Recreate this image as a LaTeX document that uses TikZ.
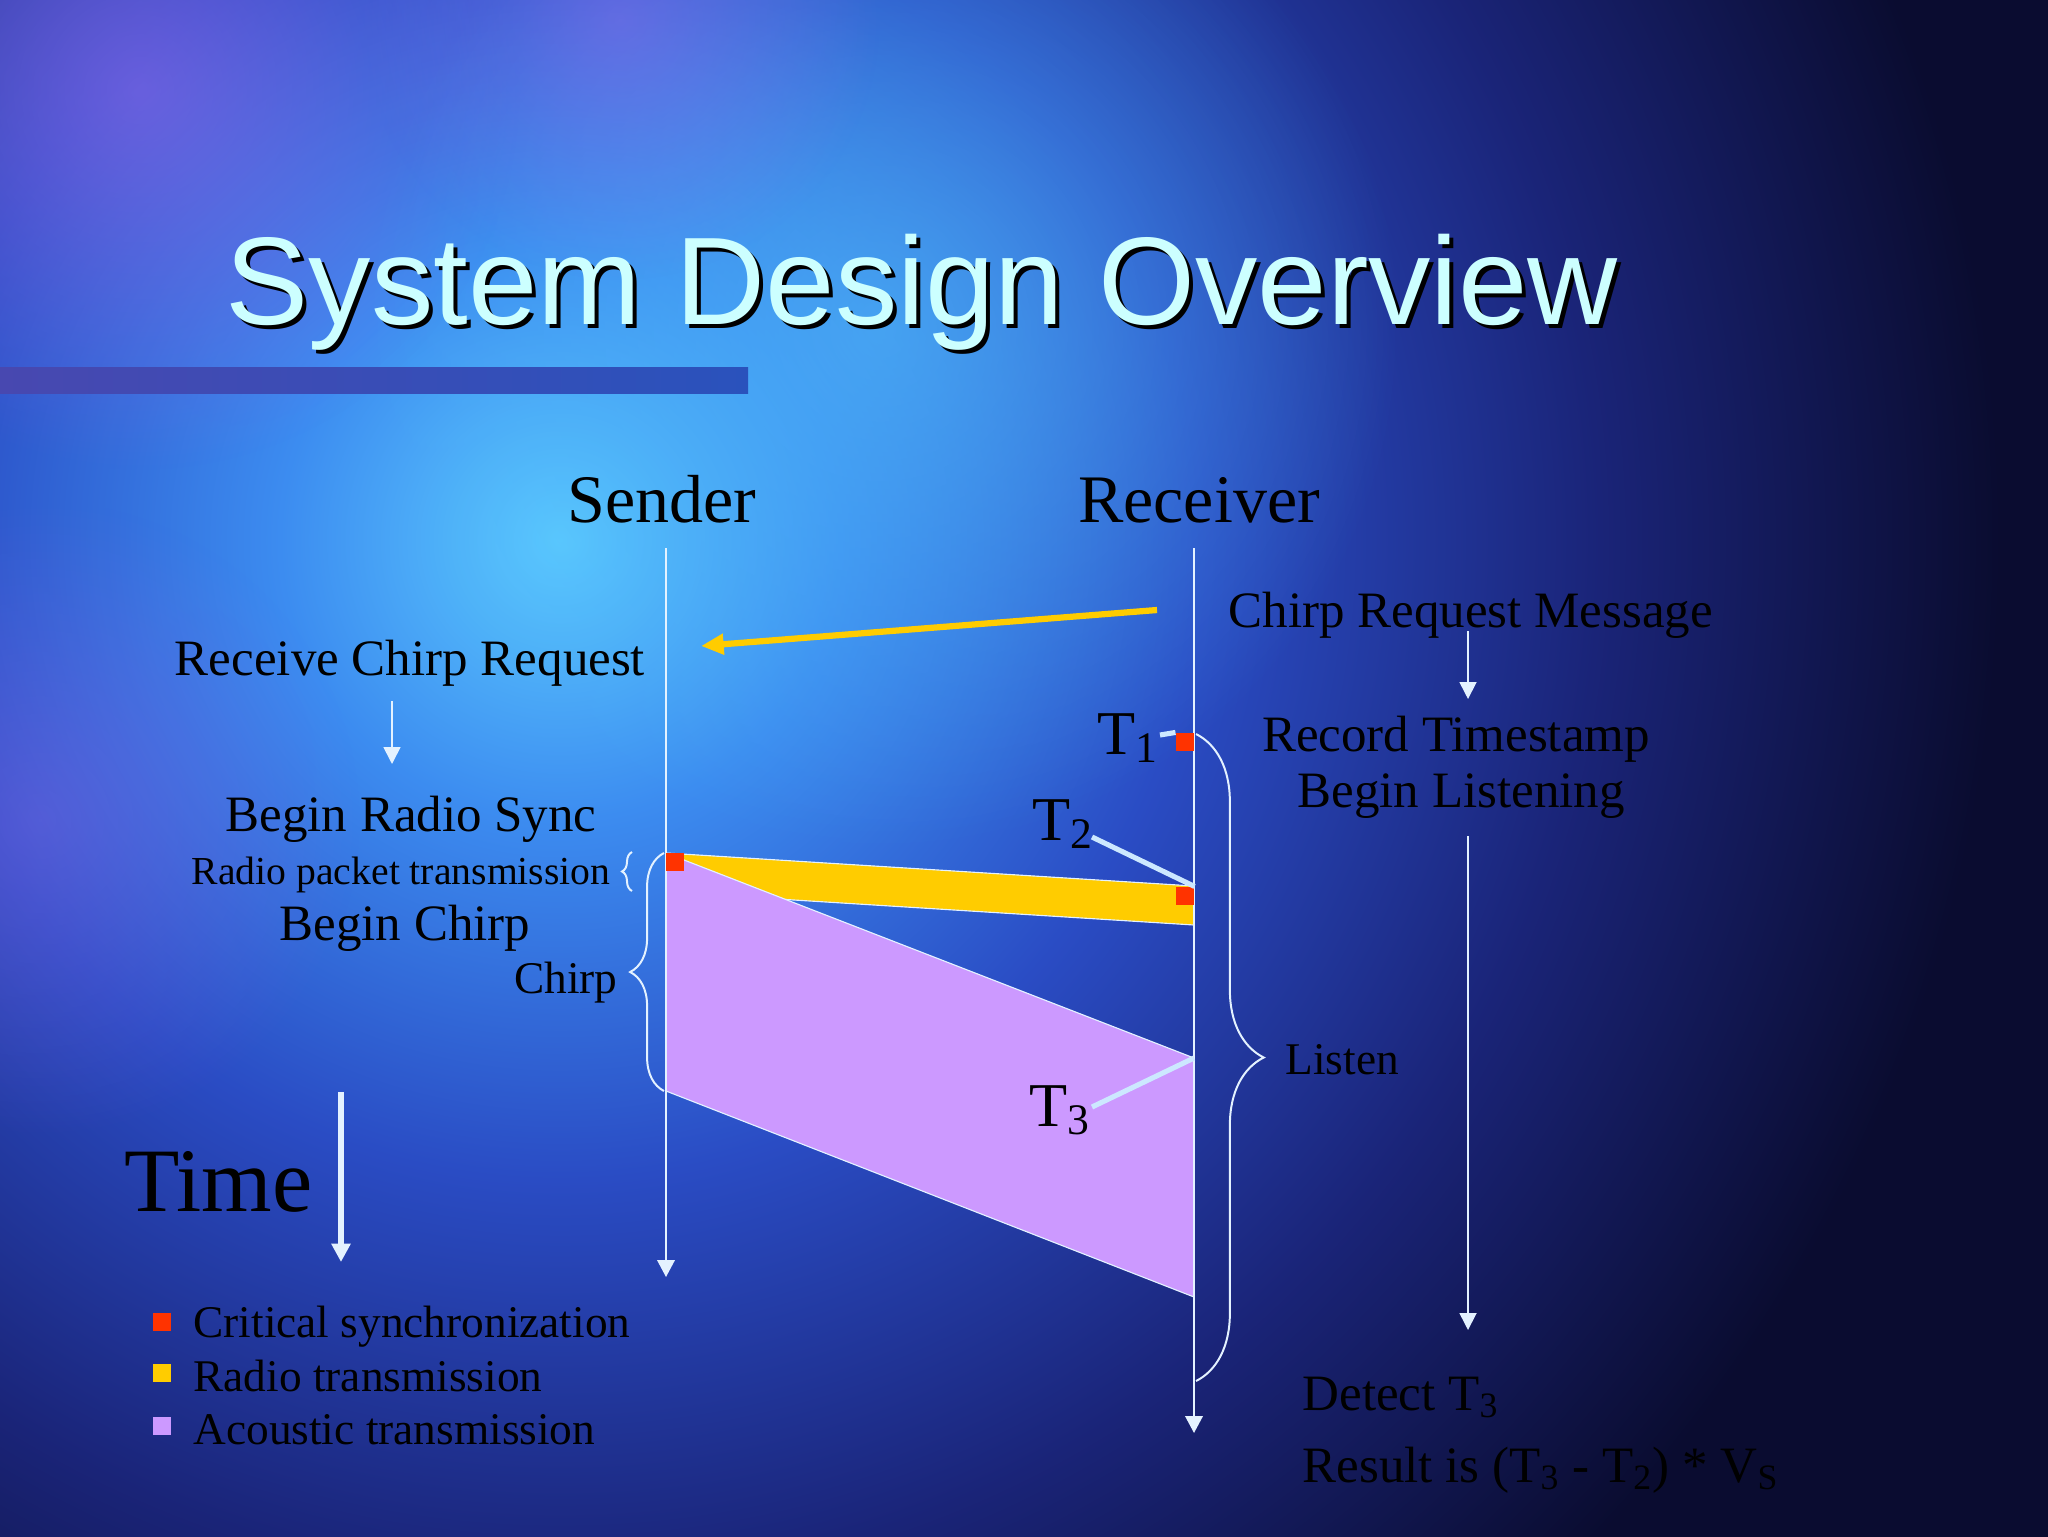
\documentclass[tikz,border=0pt]{standalone}
\usepackage{fontspec}
\setmainfont{Liberation Serif}
\newfontfamily\headfont{Liberation Sans}
\usetikzlibrary{arrows.meta,positioning,calc,decorations.pathreplacing,fadings}

\definecolor{bgA}{HTML}{5CCBFF}
\definecolor{bgB}{HTML}{3C8CF0}
\definecolor{bgC}{HTML}{2A4CC4}
\definecolor{bgD}{HTML}{1A2478}
\definecolor{bgE}{HTML}{0A0C30}
\definecolor{haze}{HTML}{9A6CF0}
\definecolor{glow}{HTML}{4CB4F8}
\definecolor{critred}{HTML}{FF3300}
\definecolor{radioyel}{HTML}{FFCC00}
\definecolor{acoustic}{HTML}{CC99FF}
\definecolor{linecol}{HTML}{E4F2FF}
\definecolor{tickcol}{HTML}{CCE8FF}
\definecolor{titlecol}{HTML}{CCFFFF}
\definecolor{barL}{HTML}{4848B0}
\definecolor{barR}{HTML}{2A52BC}

\pgfdeclareradialshading{slidebg}{\pgfpoint{0bp}{0bp}}{color(0bp)=(bgA); color(3.5bp)=(bgB); color(8bp)=(bgC); color(13bp)=(bgD); color(18bp)=(bgE); color(50bp)=(bgE)}
\tikzfading[name=softblob, inner color=transparent!0, outer color=transparent!100]

\begin{document}
\begin{tikzpicture}[x=0.0124023cm,y=-0.0124023cm,
	lifeline/.style={draw=linecol, line width=0.7pt, -{Triangle[length=6pt,width=6.2pt]}},
	flow/.style={draw=linecol, line width=0.6pt, -{Triangle[length=6pt,width=6pt]}},
	tick/.style={draw=tickcol, line width=1.8pt},
	curly/.style={draw=linecol, line width=0.7pt, decorate, decoration={brace, amplitude=#1}},
	critsq/.style={fill=critred, inner sep=0pt, minimum size=0.223cm},
	legsq/.style={inner sep=0pt, minimum size=0.223cm},
	blob/.style={fill=#1, path fading=softblob},
	lbl/.style={inner sep=0pt, anchor=base, font=\fontsize{18}{21}\selectfont},
	tlbl/.style={inner sep=0pt, anchor=base west, font=\fontsize{22}{26}\selectfont}]

	% background
	\useasboundingbox (0,0) rectangle (2048,1536);
	\begin{scope}
		\clip (0,0) rectangle (2048,1536);
		\shade[shading=slidebg] (-1440,-1460) rectangle (2560,2540);
		\fill[blob=glow, opacity=0.7] (880,330) circle (520);
		\fill[blob=haze, opacity=0.55] (140,90) circle (380);
		\fill[blob=haze, opacity=0.45] (620,20) circle (260);
		\fill[blob=haze, opacity=0.35] (40,820) circle (320);
	\end{scope}
	\shade[left color=barL, right color=barR] (0,367) rectangle (748,393);

	% title
	\node[inner sep=0pt, anchor=base, text=black, font=\headfont\fontsize{44}{52}\selectfont] (titleshadow) at (926,328) {System Design Overview};
	\node[inner sep=0pt, anchor=base, text=titlecol, font=\headfont\fontsize{44}{52}\selectfont] (title) at (922,324) {System Design Overview};

	% column heads and time lines
	\node[lbl, font=\fontsize{24}{28}\selectfont] (sender) at (662,522) {Sender};
	\node[lbl, font=\fontsize{24}{28}\selectfont] (receiver) at (1199,522) {Receiver};
	\coordinate (stop) at (666,548);
	\coordinate (sbot) at (666,1277);
	\coordinate (rtop) at (1194,548);
	\coordinate (rbot) at (1194,1433);

	% radio band and acoustic band
	\fill[radioyel] (666,853) -- (1194,886) -- (1194,925) -- (666,892) -- cycle;
	\draw[linecol, line width=0.4pt] (666,853) -- (1194,886) (666,892) -- (1194,925);
	\coordinate (purpTR) at (1194,1058);
	\filldraw[fill=acoustic, draw=linecol, line width=0.4pt] (666,853) -- (purpTR) -- (1194,1297) -- (666,1091) -- cycle;

	\draw[lifeline] (stop) -- (sbot);
	\draw[lifeline] (rtop) -- (rbot);

	% chirp request
	\coordinate (reqstart) at (1157,610);
	\coordinate (reqend) at (701,646);
	\draw[draw=radioyel, line width=2.2pt, -{Triangle[length=8pt,width=7pt]}] (reqstart) -- (reqend);

	% sync points
	\node[critsq] (q0) at (675,862) {};
	\node[critsq] (q1) at (1185,742) {};
	\node[critsq] (q2) at (1185,896) {};

	% left side texts
	\node[lbl] (recvreq) at (410,675) {Receive Chirp Request};
	\coordinate (a1s) at (392,701);
	\coordinate (a1e) at (392,764);
	\draw[flow] (a1s) -- (a1e);
	\node[lbl] (radiosync) at (411,831) {Begin Radio Sync};
	\node[lbl, anchor=base east, font=\fontsize{14}{17}\selectfont] (packet) at (611,884) {Radio packet transmission};
	\node[lbl] (beginchirp) at (405,940) {Begin Chirp};
	\node[lbl, anchor=base east, font=\fontsize{16}{19}\selectfont] (chirp) at (618,993) {Chirp};
	\draw[curly=0.124cm] (632,891) -- (632,852);
	\draw[curly=0.42cm] (664,1091) -- (664,853);

	% time
	\node[lbl, anchor=base west, font=\fontsize{32}{38}\selectfont] (time) at (124,1211) {Time};
	\coordinate (tms) at (341,1092);
	\coordinate (tme) at (341,1262);
	\draw[draw=linecol, line width=2pt, -{Triangle[length=6.5pt,width=6.5pt]}] (tms) -- (tme);

	% legend
	\node[legsq, fill=critred] (sqcrit) at (162,1322) {};
	\node[legsq, fill=radioyel] (sqradio) at (162,1373) {};
	\node[legsq, fill=acoustic] (sqacou) at (162,1426) {};
	\node[lbl, anchor=base west, font=\fontsize{16}{19}\selectfont] (legcrit) at (193,1337) {Critical synchronization};
	\node[lbl, anchor=base west, font=\fontsize{16}{19}\selectfont] (legradio) at (193,1391) {Radio transmission};
	\node[lbl, anchor=base west, font=\fontsize{16}{19}\selectfont] (legacou) at (193,1444) {Acoustic transmission};

	% receiver side texts
	\node[lbl, anchor=base west] (reqmsg) at (1228,627) {Chirp Request Message};
	\coordinate (a2s) at (1468,631);
	\coordinate (a2e) at (1468,699);
	\draw[flow] (a2s) -- (a2e);
	\node[lbl] (record) at (1456,751) {Record Timestamp};
	\node[lbl] (listening) at (1461,807) {Begin Listening};
	\coordinate (a3s) at (1468,836);
	\coordinate (a3e) at (1468,1330);
	\draw[flow] (a3s) -- (a3e);
	\draw[curly=0.84cm] (1196,734) -- (1196,1381);
	\node[lbl, anchor=base west, font=\fontsize{16}{19}\selectfont] (listen) at (1285,1074) {Listen};
	\node[lbl, anchor=base west] (detect) at (1302,1410) {Detect T\textsubscript{3}};
	\node[lbl, anchor=base west] (result) at (1302,1482) {Result is (T\textsubscript{3} - T\textsubscript{2}) * V\textsubscript{S}};

	% timestamps
	\node[tlbl] (t1) at (1097,754) {T\textsubscript{1}};
	\node[tlbl] (t2) at (1032,840) {T\textsubscript{2}};
	\node[tlbl] (t3) at (1029,1126) {T\textsubscript{3}};
	\coordinate (t1tick) at (1160,735);
	\coordinate (t2tick) at (1092,837);
	\coordinate (t3tick) at (1092,1107);
	\draw[tick] (t1tick) -- (q1.north west);
	\draw[tick] (t2tick) -- (q2.north east);
	\draw[tick] (t3tick) -- (purpTR);
\end{tikzpicture}
\end{document}
